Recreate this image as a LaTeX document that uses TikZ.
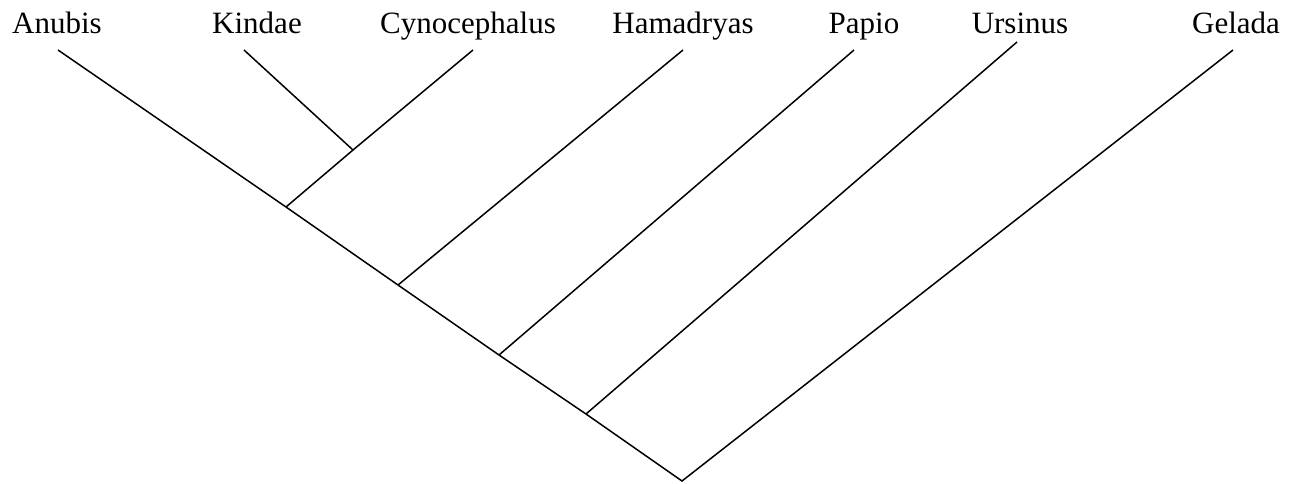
\documentclass[tikz,border=0pt]{standalone}
\usepackage{fontspec}
\setmainfont{Liberation Serif}

\begin{document}
\begin{tikzpicture}[x=1pt,y=-1pt,
  taxon/.style={anchor=base,inner sep=0pt,font=\fontsize{31}{37}\selectfont},
  branch/.style={line width=1.5pt,line join=miter}]
  \useasboundingbox (0,0) rectangle (1293,483);

  \node[taxon] (anubis) at (57,33) {Anubis};
  \node[taxon] (kindae) at (257,33) {Kindae};
  \node[taxon] (cyno) at (468,33) {Cynocephalus};
  \node[taxon] (hama) at (683,33) {Hamadryas};
  \node[taxon] (papio) at (864,33) {Papio};
  \node[taxon] (ursi) at (1020,33) {Ursinus};
  \node[taxon] (gelada) at (1236,33) {Gelada};

  % tips of the branches
  \coordinate (t anubis) at (58,50);
  \coordinate (t kindae) at (244,50);
  \coordinate (t cyno) at (473,50);
  \coordinate (t hama) at (683,50);
  \coordinate (t papio) at (854,50);
  \coordinate (t ursi) at (1017,42);
  \coordinate (t gelada) at (1233,50);

  % inner nodes
  \coordinate (kc) at (353,150);
  \coordinate (akc) at (286,207);
  \coordinate (h) at (398,285);
  \coordinate (p) at (499,355);
  \coordinate (u) at (586,414);
  \coordinate (root) at (682,481);

  \draw[branch] (t anubis) -- (akc) -- (h) -- (p) -- (u) -- (root) -- (t gelada);
  \draw[branch] (t kindae) -- (kc) -- (t cyno);
  \draw[branch] (kc) -- (akc);
  \draw[branch] (h) -- (t hama);
  \draw[branch] (p) -- (t papio);
  \draw[branch] (u) -- (t ursi);
\end{tikzpicture}
\end{document}
